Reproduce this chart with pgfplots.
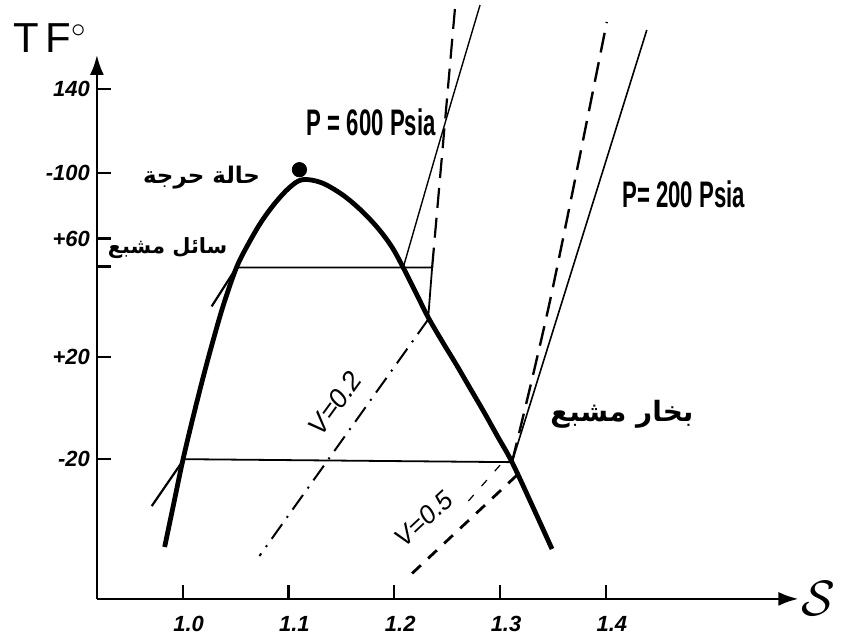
\documentclass[border=0pt]{standalone}
\usepackage{pgfplots}
\pgfplotsset{compat=1.18}
\usetikzlibrary{arrows.meta}
\usepackage{fontspec}
\setmainfont{Liberation Sans}
\newfontfamily\arabicfont[Script=Arabic]{DejaVu Sans}
\newfontfamily\condfont[FakeStretch=0.6]{Liberation Sans}
\newfontfamily\handfont{Liberation Sans}
\TeXXeTstate=1

\begin{document}
\begin{tikzpicture}
\begin{axis}[
  scale only axis, width=351.4pt, height=272.5pt,
  xmin=0.919, xmax=1.582, ymin=0, ymax=545,
  axis lines=left,
  axis line style={line width=1.3pt},
  x axis line style={-{Latex[length=10pt,width=7pt]}},
  y axis line style={-{Latex[length=10pt,width=7pt]}},
  tick align=inside,
  major tick length=7pt,
  tick style={line width=1.1pt, black},
  xtick={1.0,1.1,1.2,1.3,1.4},
  xticklabels={1.0,1.1,1.2,1.3,1.4},
  ytick={140,242,333,361,427,511},
  yticklabels={-20,+20,,+60,-100,140},
  tick label style={font=\handfont\itshape\bfseries\fontsize{11}{11}\selectfont},
  xticklabel style={yshift=-5pt, xshift=3pt},
  clip=false,
]
% page frame
\path (axis cs:0.8274,-41) rectangle (axis cs:1.6217,600);

% saturation dome
\addplot[black, line width=2.4pt, smooth, tension=0.55] coordinates {
  (0.9830,52) (0.9915,95) (1.0000,138) (1.0094,180) (1.0189,220)
  (1.0283,257) (1.0387,295) (1.0509,332) (1.0623,356) (1.0745,378)
  (1.0877,397) (1.1009,412) (1.1132,420) (1.1311,417) (1.1509,405)
  (1.1689,389) (1.1849,371) (1.1981,352) (1.2094,330) (1.2208,306)
  (1.2321,282) (1.2453,258) (1.2585,235) (1.2717,211) (1.2849,187)
  (1.2981,162) (1.3113,137) (1.3302,94) (1.3491,50)
};
% critical point
\addplot[only marks, mark=*, mark size=3.6pt, black] coordinates {(1.1104,430)};

% constant-temperature lines in the wet region
\addplot[black, line width=0.9pt] coordinates {(1.0509,332) (1.2358,332) (1.2321,282)};
\addplot[black, line width=0.9pt] coordinates {(1.0000,140) (1.3113,137)};

% liquid-side pressure lines
\addplot[black, line width=1.1pt] coordinates {(0.9708,93) (1.0000,138)};
\addplot[black, line width=1.1pt] coordinates {(1.0274,293) (1.0509,332)};

% P = 600 Psia
\addplot[black, line width=0.7pt, smooth] coordinates {(1.2085,332) (1.2434,460) (1.2811,595)};
\addplot[black, line width=1.1pt, dash pattern=on 10pt off 5pt] coordinates {(1.2358,332) (1.2575,593)};

% P = 200 Psia
\addplot[black, line width=0.8pt] coordinates {(1.3113,137) (1.4387,570)};
\addplot[black, line width=1.2pt, dash pattern=on 10pt off 5pt, smooth] coordinates {(1.3113,137) (1.3481,303) (1.4009,578)};

% constant-quality lines
\addplot[black, line width=1.0pt, dash pattern=on 9pt off 4pt on 1pt off 4pt] coordinates {(1.2321,280) (1.0726,43)};
\addplot[black, line width=1.4pt, dash pattern=on 6pt off 5pt] coordinates {(1.3160,124) (1.2113,20)};
\addplot[black, line width=0.6pt, dash pattern=on 4pt off 6pt] coordinates {(1.3000,134) (1.2650,92)};

% labels
\node[font=\fontsize{21}{21}\selectfont] at (axis cs:0.8745,562) {T\,F$^{\circ}$};
\node[font=\fontsize{28}{28}\selectfont] at (axis cs:1.6009,0) {$\mathcal{S}$};
\node[font=\arabicfont\bfseries\fontsize{11.5}{11.5}\selectfont] at (axis cs:1.0179,422) {\beginR حالة حرجة\endR};
\node[font=\arabicfont\bfseries\fontsize{10.5}{10.5}\selectfont] at (axis cs:0.9858,351) {\beginR سائل مشبع\endR};
\node[font=\arabicfont\bfseries\fontsize{14}{14}\selectfont] at (axis cs:1.4151,185) {\beginR بخار مشبع\endR};
\node[font=\condfont\bfseries\fontsize{18.5}{18.5}\selectfont] at (axis cs:1.1783,477) {P = 600 Psia};
\node[font=\condfont\bfseries\fontsize{18.5}{18.5}\selectfont] at (axis cs:1.4736,405) {P= 200 Psia};
\node[font=\handfont\itshape\fontsize{13.5}{13.5}\selectfont, rotate=54] at (axis cs:1.1440,196) {V=0.2};
\node[font=\handfont\itshape\fontsize{13}{13}\selectfont, rotate=43] at (axis cs:1.2280,80) {V=0.5};
\end{axis}
\end{tikzpicture}
\end{document}
